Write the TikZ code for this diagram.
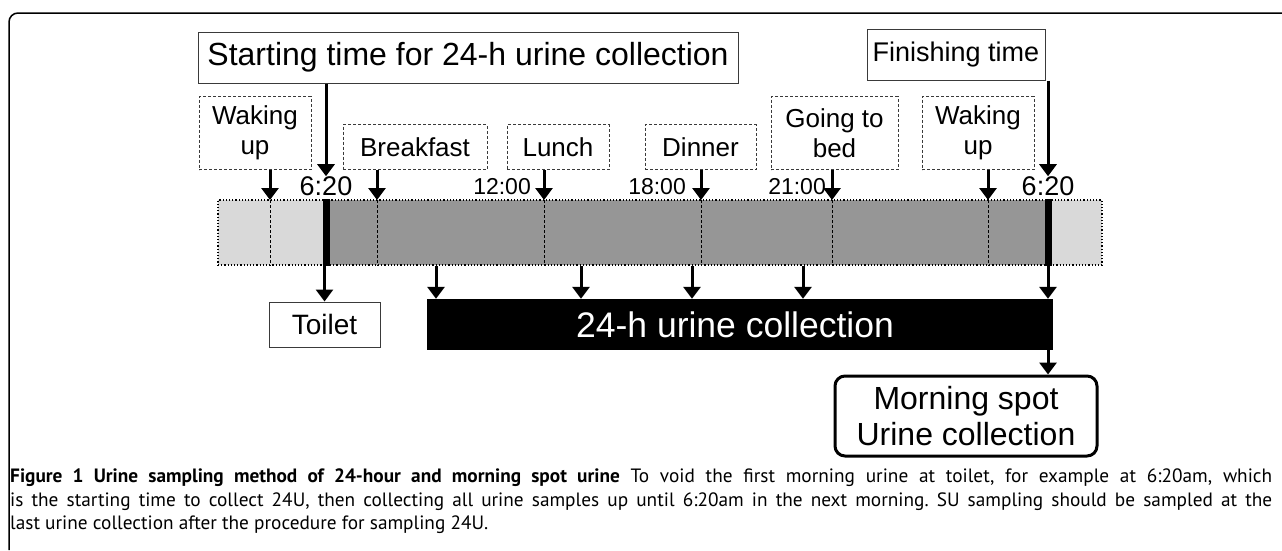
\documentclass[tikz,border=0pt]{standalone}
\usepackage{fontspec}
\setmainfont{Liberation Sans}
\newfontfamily\capfont{PT Sans}
\usepackage{tikz}
\usetikzlibrary{positioning,arrows.meta}
\definecolor{bardark}{HTML}{969696}
\definecolor{barlight}{HTML}{D9D9D9}
\definecolor{boxline}{HTML}{3A3A3A}

\begin{document}
\begin{tikzpicture}[x=1pt, y=-1pt,
  evbox/.style={draw=boxline, densely dashed, line width=0.8pt, align=center, inner sep=0pt, anchor=south, font=\fontsize{26}{30}\selectfont},
  headbox/.style={draw=boxline, line width=1pt, inner sep=0pt, minimum height=51pt, font=\fontsize{32}{36}\selectfont},
  timelbl/.style={inner sep=0pt, font=\fontsize{23}{26}\selectfont},
  bigarr/.style={line width=3pt, -{Triangle[width=17pt,length=12pt]}},
]
\useasboundingbox (0,0) rectangle (1282,550);
% frame of the figure
\draw[line width=1.5pt, rounded corners=9pt] (9,550) -- (9,13) -- (1282,13);

% start / finish
\node[headbox, minimum width=540pt] (start) at (468,57.5) {Starting time for 24-h urine collection};
\node[headbox, minimum width=178pt, font=\fontsize{27}{32}\selectfont] (finish) at (956,54.5) {Finishing time};

% events of the day
\node[evbox, minimum width=112pt, minimum height=73pt] (wakeA) at (255,170) {Waking\\up};
\node[evbox, minimum width=144pt, minimum height=45pt] (breakfast) at (415,170) {Breakfast};
\node[evbox, minimum width=102pt, minimum height=45pt] (lunch) at (558,170) {Lunch};
\node[evbox, minimum width=111pt, minimum height=45pt] (dinner) at (700.5,170) {Dinner};
\node[evbox, minimum width=127pt, minimum height=73pt] (bed) at (834.5,170) {Going to\\bed};
\node[evbox, minimum width=112pt, minimum height=73pt] (wakeB) at (978,170) {Waking\\up};

% time labels
\node[timelbl, font=\fontsize{27}{30}\selectfont] (t620a) at (326,186) {6:20};
\node[timelbl, font=\fontsize{27}{30}\selectfont] (t620b) at (1048,186) {6:20};
\node[timelbl, anchor=east] (t1200) at (531,187) {12:00};
\node[timelbl, anchor=east] (t1800) at (686,187) {18:00};
\node[timelbl, anchor=east] (t2100) at (826,187) {21:00};

% the day bar
\fill[barlight] (218,200) rectangle (1102,265);
\fill[bardark] (324,200) rectangle (1047,265);
\node[draw, dotted, line width=1.2pt, inner sep=0pt, minimum width=884pt, minimum height=65pt] (bar) at (660,232.5) {};
\foreach \n/\x in {1/270,2/377,3/544,4/701,5/832,6/988} {
  \coordinate (tk\n) at (\x,200);
  \draw[densely dashed, line width=0.6pt] (tk\n) -- (bar.south -| tk\n);
}
\draw[line width=7pt] (bar.north -| t620a) -- (bar.south -| t620a);
\draw[line width=7pt] (bar.north -| t620b) -- (bar.south -| t620b);

% arrows into the bar
\draw[bigarr] (start.south -| t620a) -- (t620a.north);
\draw[bigarr] (finish.south -| t620b) -- (t620b.north);
\draw[bigarr] (wakeA.south -| tk1) -- (tk1);
\draw[bigarr] (breakfast.south -| tk2) -- (tk2);
\draw[bigarr] (lunch.south -| tk3) -- (tk3);
\draw[bigarr] (dinner.south -| tk4) -- (tk4);
\draw[bigarr] (bed.south -| tk5) -- (tk5);
\draw[bigarr] (wakeB.south -| tk6) -- (tk6);

% collection
\node[draw=boxline, line width=1pt, minimum width=111pt, minimum height=45pt, inner sep=0pt, font=\fontsize{28}{32}\selectfont] (toilet) at (324.5,324.5) {Toilet};
\node[fill=black, text=white, minimum width=626pt, minimum height=51pt, inner sep=0pt, font=\fontsize{35.5}{38}\selectfont] (coll) at (740,324.5) {24-h urine collection\hspace*{10pt}};
\node[draw, line width=3pt, rounded corners=10pt, align=center, minimum width=262pt, minimum height=80pt, inner sep=0pt, font=\fontsize{32}{36}\selectfont] (morning) at (966,416) {Morning spot\\Urine collection};

\draw[bigarr] (bar.south -| toilet.north) -- (toilet.north);
\foreach \x in {436,581,692,803,1048} {
  \coordinate (c) at (\x,0);
  \draw[bigarr] (bar.south -| c) -- (coll.north -| c);
}
\coordinate (m) at (1048,0);
\draw[bigarr] (coll.south -| m) -- (morning.north -| m);

% caption
\node[anchor=north west, inner sep=0pt, text width=1262pt, align=justify, font=\capfont\fontsize{19.3}{23.5}\selectfont\frenchspacing] (cap) at (10,469)
  {\textbf{Figure 1 Urine sampling method of 24-hour and morning spot urine} To void the first morning urine at toilet, for example at 6:20am, which\linebreak
   is the starting time to collect 24U, then collecting all urine samples up until 6:20am in the next morning. SU sampling should be sampled at the\linebreak
   last urine collection after the procedure for sampling 24U.};
\end{tikzpicture}
\end{document}
